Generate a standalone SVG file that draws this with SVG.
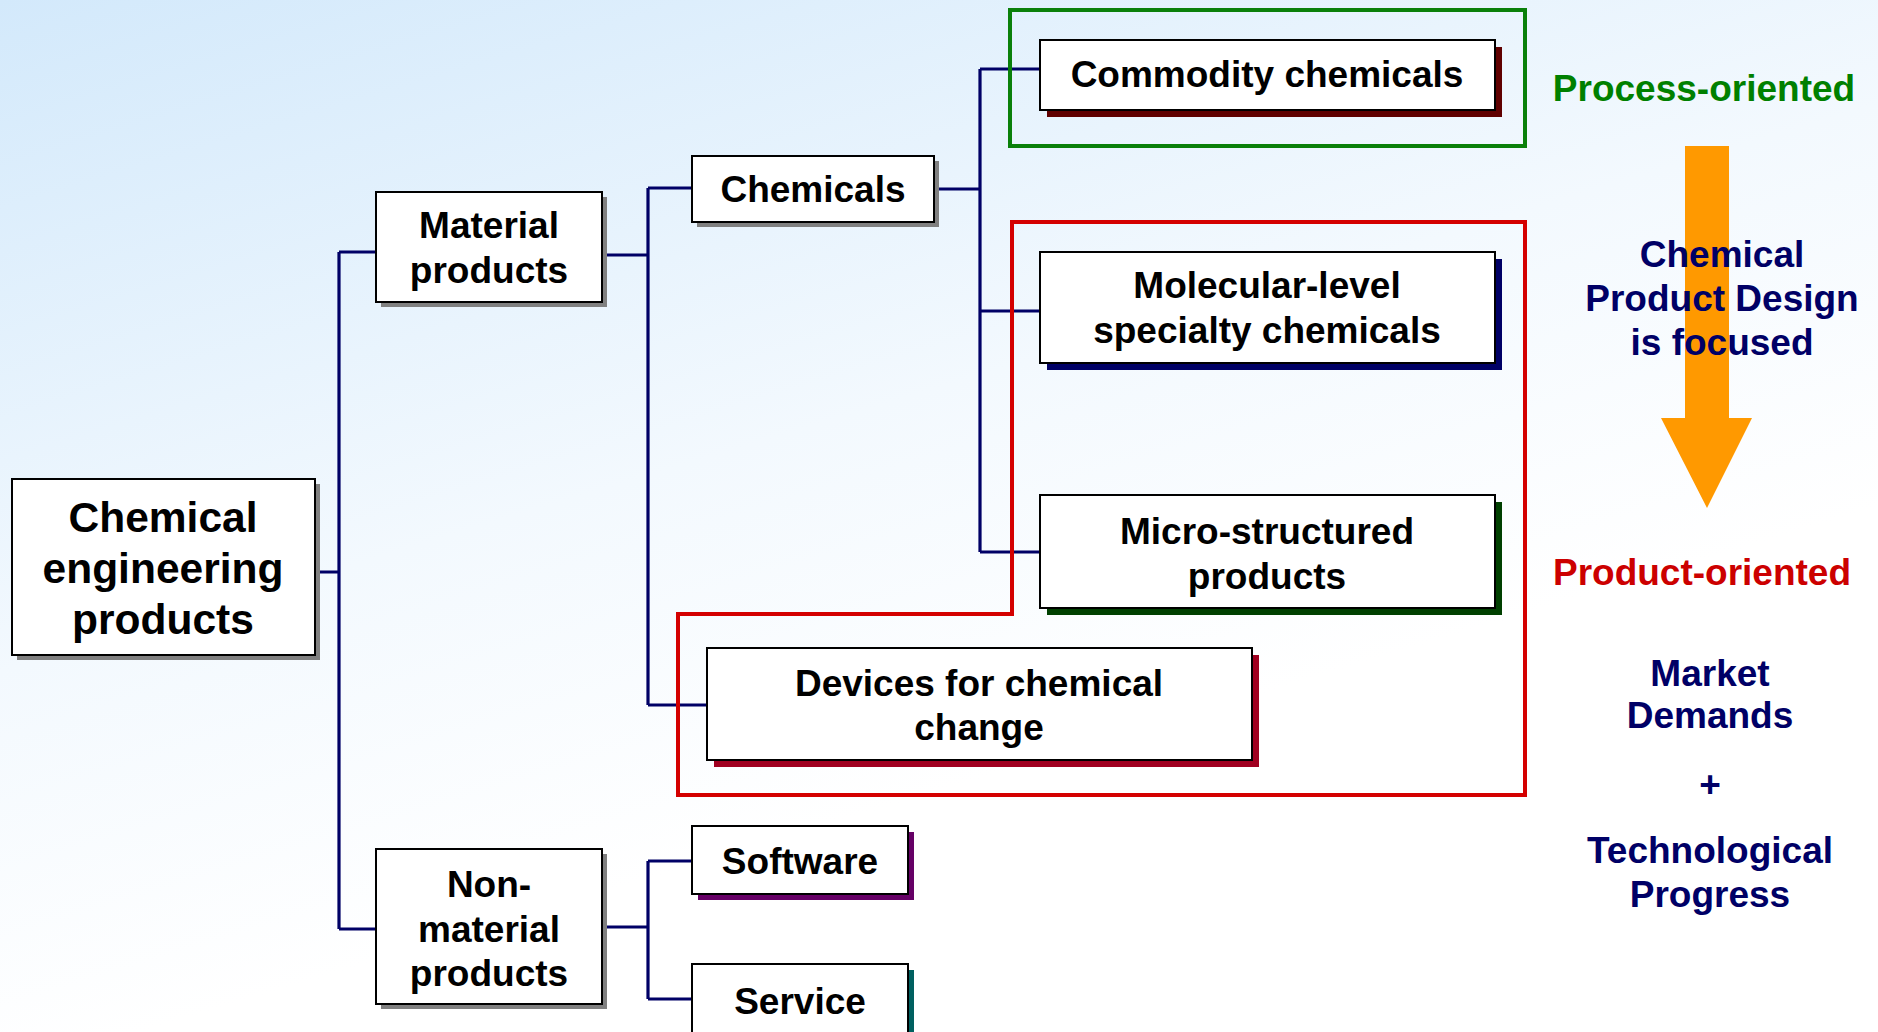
<svg xmlns="http://www.w3.org/2000/svg" width="1878" height="1032" viewBox="0 0 1878 1032">
<defs>
<linearGradient id="bg" x1="0" y1="0" x2="0.55" y2="1">
<stop offset="0" stop-color="#d3e9fb"/>
<stop offset="0.5" stop-color="#f3f9fe"/>
<stop offset="0.8" stop-color="#ffffff"/>
</linearGradient>
</defs>
<style>
text{font-family:"Liberation Sans",Arial,sans-serif;font-weight:bold;text-anchor:middle}
.t{font-size:37px;fill:#000}
.big{font-size:42.5px;fill:#000}
.box{fill:#fff;stroke:#000;stroke-width:2}
.sh{fill:#808080}
.con{fill:none;stroke:#000066;stroke-width:3.2}
.frame{fill:none;stroke-width:4}
.side{font-size:37px;fill:#000066}
</style>
<rect width="1878" height="1032" fill="url(#bg)"/>

<g id="connectors">
<path class="con" d="M315,572 H339 M339,252 V929 M339,252 H376 M339,929 H376"/>
<path class="con" d="M602,255 H648 M648,188 V705 M648,188 H692 M648,705 H707"/>
<path class="con" d="M934,189 H980 M980,69 V552 M980,69 H1040 M980,311 H1040 M980,552 H1040"/>
<path class="con" d="M602,927 H648 M648,861 V999 M648,861 H692 M648,999 H692"/>
</g>

<g id="frames">
<rect class="frame" x="1010" y="10" width="515" height="136" stroke="#0a800a"/>
<path class="frame" d="M1012,222 H1525 V795 H678 V614 H1012 Z" stroke="#d40000"/>
</g>

<g id="n-main">
<rect class="sh" x="17" y="484" width="303" height="176"/>
<rect class="box" x="12" y="479" width="303" height="176"/>
<text class="big" x="163" y="532">Chemical</text>
<text class="big" x="163" y="583">engineering</text>
<text class="big" x="163" y="634">products</text>
</g>

<g id="n-material">
<rect class="sh" x="381" y="197" width="226" height="110"/>
<rect class="box" x="376" y="192" width="226" height="110"/>
<text class="t" x="489" y="238">Material</text>
<text class="t" x="489" y="283">products</text>
</g>

<g id="n-chemicals">
<rect class="sh" x="697" y="161" width="242" height="66"/>
<rect class="box" x="692" y="156" width="242" height="66"/>
<text class="t" x="813" y="202">Chemicals</text>
</g>

<g id="n-commodity">
<rect x="1047" y="47" width="455" height="70" fill="#600000"/>
<rect class="box" x="1040" y="40" width="455" height="70" stroke="#800000" stroke-width="3.5"/>
<text class="t" x="1267" y="87">Commodity chemicals</text>
</g>

<g id="n-molecular">
<rect x="1047" y="259" width="455" height="111" fill="#000066"/>
<rect class="box" x="1040" y="252" width="455" height="111" stroke="#0000ff" stroke-width="3.5"/>
<text class="t" x="1267" y="298">Molecular-level</text>
<text class="t" x="1267" y="343">specialty chemicals</text>
</g>

<g id="n-micro">
<rect x="1047" y="502" width="455" height="113" fill="#004000"/>
<rect class="box" x="1040" y="495" width="455" height="113" stroke="#008000" stroke-width="3.5"/>
<text class="t" x="1267" y="544">Micro-structured</text>
<text class="t" x="1267" y="589">products</text>
</g>

<g id="n-devices">
<rect x="714" y="655" width="545" height="112" fill="#a00020"/>
<rect class="box" x="707" y="648" width="545" height="112" stroke="#ff6600" stroke-width="3.5"/>
<text class="t" x="979" y="696">Devices for chemical</text>
<text class="t" x="979" y="740">change</text>
</g>

<g id="n-nonmaterial">
<rect class="sh" x="381" y="854" width="226" height="155"/>
<rect class="box" x="376" y="849" width="226" height="155"/>
<text class="t" x="489" y="897">Non-</text>
<text class="t" x="489" y="942">material</text>
<text class="t" x="489" y="986">products</text>
</g>

<g id="n-software">
<rect x="698" y="832" width="216" height="68" fill="#660066"/>
<rect class="box" x="692" y="826" width="216" height="68" stroke="#800080" stroke-width="3.5"/>
<text class="t" x="800" y="874">Software</text>
</g>

<g id="n-service">
<rect x="698" y="970" width="216" height="80" fill="#006060"/>
<rect class="box" x="692" y="964" width="216" height="80" stroke="#008080" stroke-width="3.5"/>
<text class="t" x="800" y="1014">Service</text>
</g>

<g id="side">
<text class="side" x="1704" y="101" style="fill:#008000">Process-oriented</text>
<polygon points="1685,146 1729,146 1729,418 1752,418 1707,508 1661,418 1685,418" fill="#ff9900"/>
<text class="side" x="1722" y="267">Chemical</text>
<text class="side" x="1722" y="311">Product Design</text>
<text class="side" x="1722" y="355">is focused</text>
<text class="side" x="1702" y="585" style="fill:#cc0000">Product-oriented</text>
<text class="side" x="1710" y="686">Market</text>
<text class="side" x="1710" y="728">Demands</text>
<text class="side" x="1710" y="797">+</text>
<text class="side" x="1710" y="863">Technological</text>
<text class="side" x="1710" y="907">Progress</text>
</g>
</svg>
